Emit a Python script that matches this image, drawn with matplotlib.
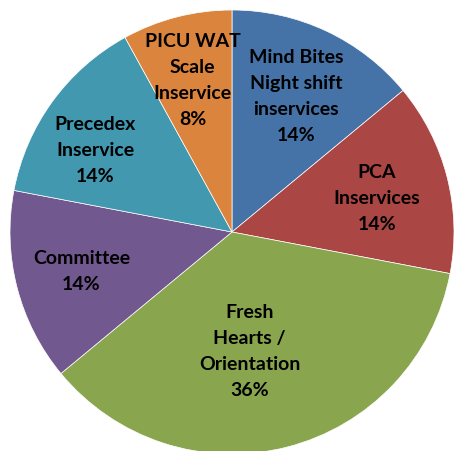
import numpy as np
import matplotlib.pyplot as plt

# slice data (clockwise from 12 o'clock)
labels = ["Mind Bites\nNight shift\ninservices", "PCA\nInservices", "Fresh\nHearts /\nOrientation",
          "Committee", "Precedex\nInservice", "PICU WAT\nScale\nInservice"]
counts = [7, 7, 18, 7, 7, 4]
colors = ["#4572A7", "#AA4643", "#89A54E", "#71588F", "#4198AF", "#DB843D"]

# radial position of each label, as fraction of radius
label_r = [0.68, 0.67, 0.54, 0.70, 0.72, 0.71]
label_shift = [0, -1, -6, 0, 5, 0]  # small angular nudge in degrees

plt.rcParams['font.family'] = ['Lato', 'DejaVu Sans']

fig = plt.figure(figsize=(4.54, 4.52), dpi=100)
ax = fig.add_axes([0, 0, 1, 1])

wedges, _ = ax.pie(counts, colors=colors, startangle=90, counterclock=False,
                   radius=1.0, wedgeprops=dict(edgecolor="white", linewidth=0.5))

total = sum(counts)
for w, lab, n, r, sh in zip(wedges, labels, counts, label_r, label_shift):
    ang = np.deg2rad((w.theta1 + w.theta2) / 2 + sh)
    pct = round(100 * n / total)
    ax.text(r * np.cos(ang), r * np.sin(ang), f"{lab}\n{pct}%", ha="center", va="center",
            fontsize=14, fontweight="bold", color="black", linespacing=1.65)

ax.set_xlim(-232 / 222, 222 / 222)
ax.set_ylim(-219 / 222, 233 / 222)
ax.axis("off")

fig.savefig("out.png", dpi=100)
